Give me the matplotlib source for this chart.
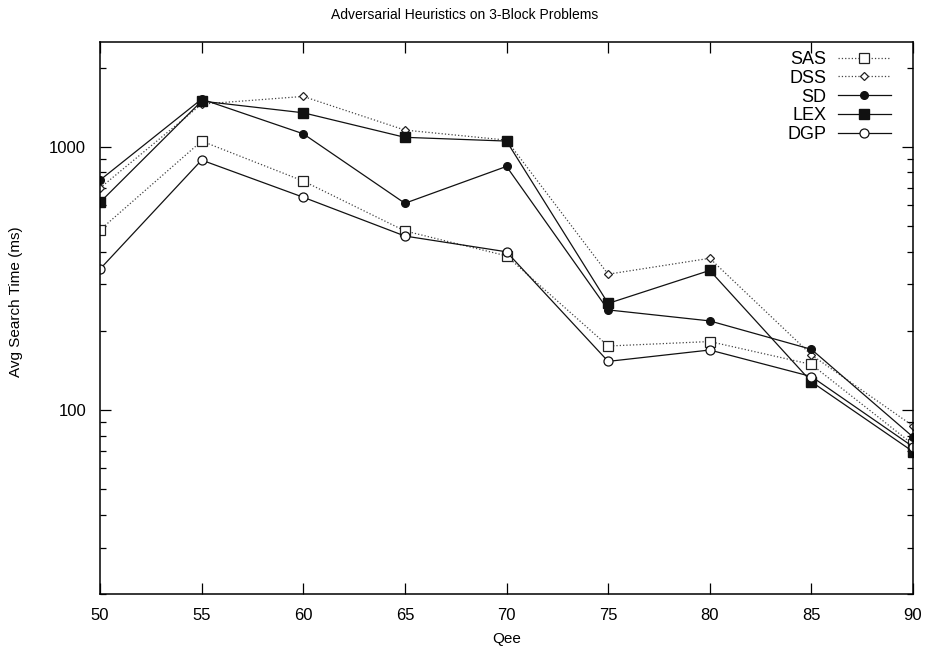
import numpy as np
import matplotlib
matplotlib.use('Agg')
import matplotlib.pyplot as plt
from matplotlib.ticker import LogLocator, FixedLocator, NullFormatter

plt.rcParams['font.family'] = ['Liberation Sans', 'DejaVu Sans']

qee = [50, 55, 60, 65, 70, 75, 80, 85, 90]

sas = [483, 1051, 741, 479, 385, 175, 182, 149, 74]
dss = [697, 1452, 1553, 1157, 1060, 328, 377, 162, 87]
sd = [747, 1517, 1120, 610, 842, 240, 218, 170, 79]
lex = [615, 1491, 1346, 1086, 1051, 254, 339, 128, 69.5]
dgp = [343, 890, 643, 458, 399, 153, 169, 134, 72.5]

fig = plt.figure(figsize=(9.3, 6.51), dpi=100)
ax = fig.add_axes([100/930, 1 - 594/651, (913-100)/930, (594-42)/651])

lw = 0.9
ax.plot(qee, sas, color='#444444', linestyle=':', linewidth=lw, marker='s', markersize=6.5,
        markerfacecolor='white', markeredgecolor='#222222', markeredgewidth=0.9, label='SAS')
ax.plot(qee, dss, color='#444444', linestyle=':', linewidth=lw, marker='D', markersize=4.5,
        markerfacecolor='white', markeredgecolor='#222222', markeredgewidth=0.9, label='DSS')
ax.plot(qee, sd, color='#111111', linestyle='-', linewidth=lw, marker='o', markersize=5.5,
        markerfacecolor='#111111', markeredgecolor='#111111', label='SD')
ax.plot(qee, lex, color='#111111', linestyle='-', linewidth=lw, marker='s', markersize=6.5,
        markerfacecolor='#111111', markeredgecolor='#111111', label='LEX')
ax.plot(qee, dgp, color='#111111', linestyle='-', linewidth=lw, marker='o', markersize=6.5,
        markerfacecolor='white', markeredgecolor='#111111', markeredgewidth=0.9, label='DGP')

ax.set_yscale('log')
ax.set_xlim(50, 90)
ax.set_ylim(20, 2500)
ax.xaxis.set_major_locator(FixedLocator(qee))
ax.yaxis.set_major_locator(FixedLocator([100, 1000]))
ax.yaxis.set_minor_locator(LogLocator(base=10, subs=np.arange(2, 10)))
ax.yaxis.set_minor_formatter(NullFormatter())
ax.set_yticklabels(['100', '1000'])

ax.tick_params(which='both', direction='in', top=True, right=True, labelsize=12, width=0.9)
ax.tick_params(which='major', length=8, pad=10)
ax.tick_params(which='minor', length=4)
for s in ax.spines.values():
    s.set_linewidth(1.1)

ax.set_xlabel('Qee', fontsize=11, va='center')
ax.set_ylabel('Avg Search Time (ms)', fontsize=11, va='center')
ax.xaxis.set_label_coords(0.5, -(639 - 594) / 552)
ax.yaxis.set_label_coords(-(100 - 16) / 813, (594 - 302) / 552)
fig.text(0.5, 1 - 15/651, 'Adversarial Heuristics on 3-Block Problems', ha='center', va='center', fontsize=10)

ax.legend(loc='upper right', bbox_to_anchor=((891 - 100) / 813, (594 - 51) / 552),
          markerfirst=False, frameon=False, fontsize=13, handlelength=2.95,
          handletextpad=0.65, labelspacing=0.1, borderaxespad=0, borderpad=0)

fig.savefig('out.png', dpi=100)
